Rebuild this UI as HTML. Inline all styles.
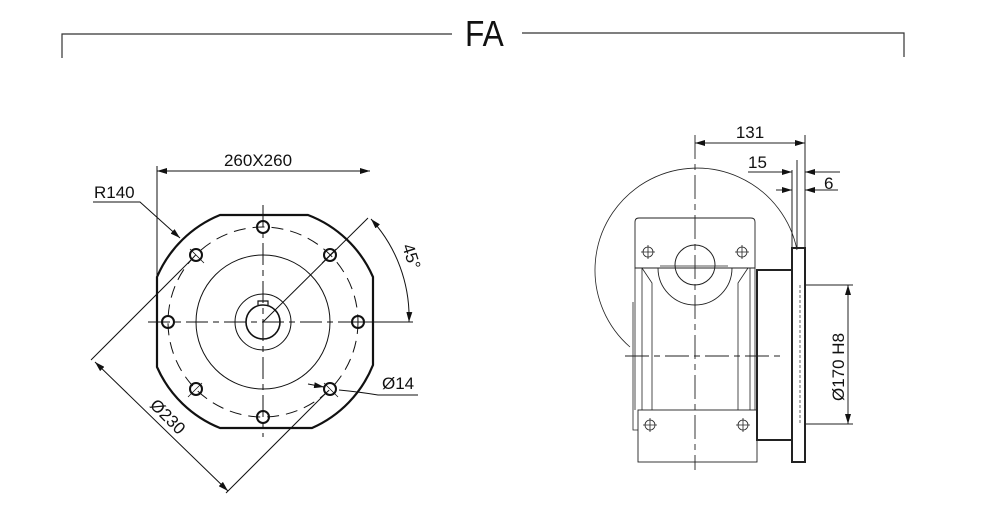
<!DOCTYPE html>
<html><head><meta charset="utf-8"><style>
html,body{margin:0;padding:0;background:#fff;}
svg{display:block;}
text{font-family:"Liberation Sans",Arial,sans-serif;fill:#111;}
</style></head><body>
<svg width="982" height="505" viewBox="0 0 982 505" xmlns="http://www.w3.org/2000/svg">
<defs>
<marker id="a" viewBox="0 0 10 6" refX="10" refY="3" markerWidth="10" markerHeight="6" orient="auto-start-reverse" markerUnits="userSpaceOnUse"><path d="M0,0 L10,3 L0,6 z" fill="#111"/></marker>
</defs>
<g stroke="#333" fill="none" stroke-width="1.2">
<path d="M62,58 V34 H452"/>
<path d="M522,33 H904 V57"/>
</g>
<text x="0" y="0" font-size="36" transform="translate(465,46) scale(0.88,1)">FA</text>

<!-- LEFT VIEW -->
<g fill="none" stroke="#111">
<path d="M220,215 H308 A116,116 0 0 1 373,277 V365 A116,116 0 0 1 312,428 H220 A116,116 0 0 1 157,367 V277 A116,116 0 0 1 220,215 Z" stroke-width="2.2"/>
<circle cx="263" cy="322" r="95" stroke-width="1" stroke-dasharray="12,7"/>
<circle cx="263" cy="322" r="67" stroke-width="1"/>
<circle cx="263" cy="322" r="28" stroke-width="1"/>
<circle cx="263" cy="322" r="17" stroke-width="1.6"/>
<path d="M258,305 v-4 h10 v4" stroke-width="1.2"/>
<g stroke-width="1" stroke-dasharray="22,5,6,5">
<line x1="148" y1="322" x2="380" y2="322"/>
<line x1="263" y1="205" x2="263" y2="437"/>
</g>
<g stroke-width="2">
<circle cx="263" cy="227" r="6"/><circle cx="263" cy="417" r="6"/>
<circle cx="168" cy="322" r="6"/><circle cx="358" cy="322" r="6"/>
<circle cx="196" cy="255" r="6"/><circle cx="330" cy="255" r="6"/>
<circle cx="196" cy="389" r="6"/><circle cx="330" cy="389" r="6"/>
</g>
<g stroke-width="0.8">
<line x1="190" y1="249" x2="204" y2="263"/><line x1="322" y1="263" x2="336" y2="249"/>
<line x1="188" y1="397" x2="202" y2="383"/><line x1="324" y1="383" x2="338" y2="397"/>
</g>
<g stroke-width="1">
<line x1="157" y1="277" x2="157" y2="166"/>
<line x1="157" y1="171" x2="370" y2="171" marker-start="url(#a)" marker-end="url(#a)"/>
<path d="M93,202 H140 L180,238" marker-end="url(#a)"/>
<line x1="263" y1="322" x2="368" y2="218"/>
<line x1="358" y1="322" x2="413" y2="322"/>
<path d="M371,219 A146,146 0 0 1 409,322" marker-start="url(#a)" marker-end="url(#a)"/>
<line x1="192" y1="259" x2="91" y2="360"/>
<line x1="326" y1="393" x2="226" y2="493"/>
<line x1="95" y1="362" x2="228" y2="491" marker-start="url(#a)" marker-end="url(#a)"/>
<path d="M418,395 H378 Q360,392 339,390" />
<line x1="308" y1="384" x2="324" y2="387" marker-end="url(#a)"/>
</g>
</g>
<text x="258" y="166" font-size="17" text-anchor="middle">260X260</text>
<text x="94" y="198" font-size="17">R140</text>
<text x="0" y="0" font-size="17" transform="translate(402,246) rotate(72)">45°</text>
<text x="0" y="0" font-size="17" transform="translate(149,406) rotate(45)">Ø230</text>
<text x="382" y="389" font-size="17">Ø14</text>

<!-- RIGHT VIEW -->
<g fill="none" stroke="#222">
<path d="M630,347 A102,102 0 1 1 797,250" stroke-width="0.8"/>
<path d="M635,268 V222 Q635,218 639,218 H751 Q755,218 755,222 V268 Z" stroke-width="0.9"/>
<path d="M635,268 V410 M755,268 V410 M642,268 V410 M750,268 V410" stroke-width="0.8"/>
<path d="M642,268 L652,283 V410 M748,268 L738,283 V410" stroke-width="0.8"/>
<path d="M633,302 V430 H638" stroke-width="0.8"/>
<path d="M658,268 A37,37 0 0 0 732,268" stroke-width="0.9"/>
<circle cx="695" cy="265" r="20" stroke-width="1"/>
<line x1="660" y1="266" x2="728" y2="266" stroke-width="0.8"/>
<rect x="638" y="410" width="119" height="52" stroke-width="0.9"/>
<rect x="757" y="270" width="35" height="170" stroke-width="2"/>
<rect x="792" y="248" width="13" height="214" stroke-width="2"/>
<line x1="800" y1="285" x2="800" y2="425" stroke-width="0.7" stroke-dasharray="3,2"/>
<g stroke-width="0.8">
<circle cx="648" cy="252" r="5"/><path d="M648,245v14M641,252h14"/>
<circle cx="742" cy="252" r="5"/><path d="M742,245v14M735,252h14"/>
<circle cx="650" cy="425" r="5"/><path d="M650,418v14M643,425h14"/>
<circle cx="743" cy="425" r="5"/><path d="M743,418v14M736,425h14"/>
</g>
<g stroke-width="0.9" stroke-dasharray="24,5,6,5">
<line x1="695" y1="135" x2="695" y2="470"/>
<line x1="625" y1="356" x2="785" y2="356"/>
</g>
<g stroke-width="1">
<line x1="805" y1="135" x2="805" y2="248"/>
<line x1="797" y1="160" x2="797" y2="248"/>
<line x1="792" y1="170" x2="792" y2="248"/>
<line x1="695" y1="143" x2="805" y2="143" marker-start="url(#a)" marker-end="url(#a)"/>
<line x1="748" y1="172" x2="792" y2="172" marker-end="url(#a)"/>
<line x1="776" y1="190" x2="792" y2="190" marker-end="url(#a)"/>
<line x1="840" y1="172" x2="805" y2="172" marker-end="url(#a)"/>
<line x1="838" y1="190" x2="805" y2="190" marker-end="url(#a)"/>
<line x1="805" y1="285" x2="853" y2="285"/>
<line x1="805" y1="424" x2="853" y2="424"/>
<line x1="848" y1="285" x2="848" y2="424" marker-start="url(#a)" marker-end="url(#a)"/>
</g>
</g>
<text x="750" y="138" font-size="17" text-anchor="middle">131</text>
<text x="748" y="168" font-size="17">15</text>
<text x="824" y="189" font-size="17">6</text>
<text x="0" y="0" font-size="17" transform="translate(844,401) rotate(-90)">Ø170 H8</text>
</svg>
</body></html>
